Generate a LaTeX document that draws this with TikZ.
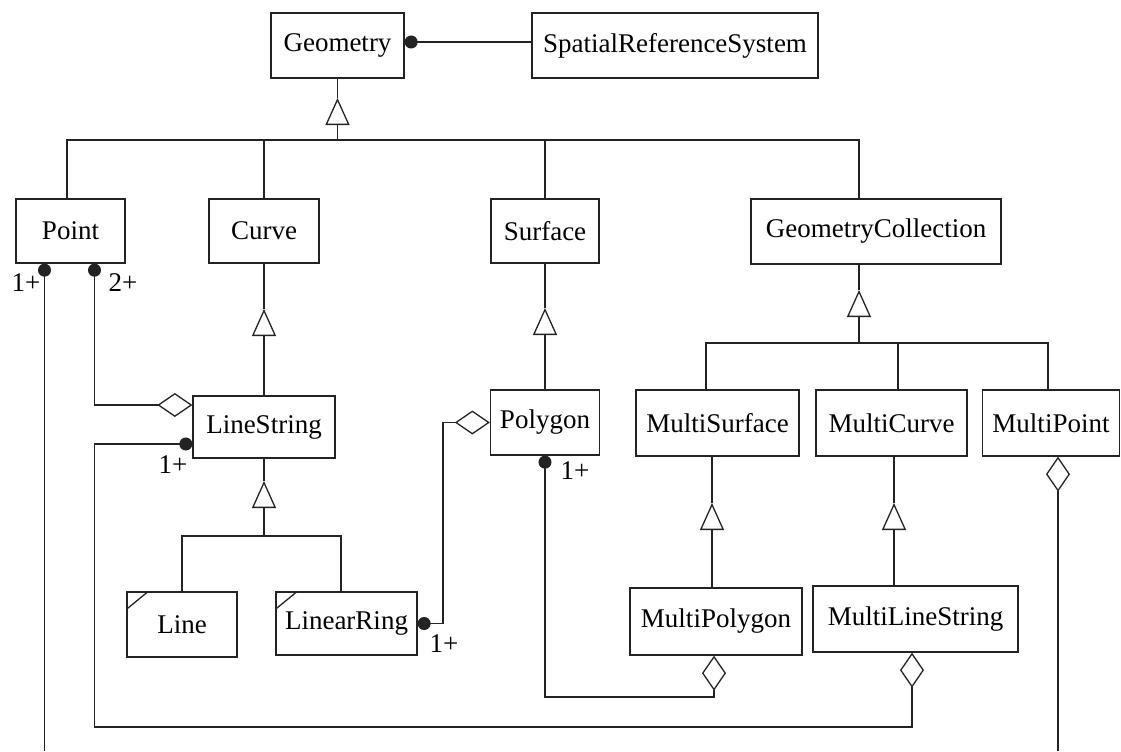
\documentclass[tikz,border=0pt]{standalone}
\usepackage{fontspec}
\setmainfont{Liberation Serif}
\usetikzlibrary{arrows.meta}
\definecolor{UmlInk}{RGB}{35,35,35}
\tikzset{
  cls/.style={draw=UmlInk,line width=0.65pt,inner sep=0pt,font=\fontsize{13.5}{16}\selectfont},
  link/.style={draw=UmlInk,line width=0.65pt},
  gen/.style={link,-{Triangle[open,length=13.5pt,width=12pt]}},
  agg/.style={link,-{Diamond[open,length=17.5pt,width=12pt]}},
  dotagg/.style={link,{Circle[length=6.5pt]}-{Diamond[open,length=17.5pt,width=12pt]}},
  mult/.style={inner sep=0pt,font=\fontsize{13.5}{16}\selectfont},
}

\begin{document}
\begin{tikzpicture}[x=0.5pt,y=-0.5pt]
\useasboundingbox (0,0) rectangle (1121,751);
% classes
\node[cls,minimum width=66.5pt,minimum height=32.5pt] (geom) at (337.5,45.5) {Geometry};
\node[cls,minimum width=143pt,minimum height=32.5pt] (srs) at (675,45.5) {SpatialReferenceSystem};
\node[cls,minimum width=54.5pt,minimum height=32pt] (pnt) at (70.5,231) {Point};
\node[cls,minimum width=55pt,minimum height=32pt] (curve) at (264,231) {Curve};
\node[cls,minimum width=54pt,minimum height=32pt] (surf) at (545,231) {Surface};
\node[cls,minimum width=125pt,minimum height=32.5pt] (gcoll) at (876,231.5) {GeometryCollection};
\node[cls,minimum width=71pt,minimum height=31pt] (lstr) at (264,427) {LineString};
\node[cls,minimum width=54.5pt,minimum height=32.5pt] (poly) at (545,422.5) {Polygon};
\node[cls,minimum width=81.5pt,minimum height=33pt] (msurf) at (717.5,423) {MultiSurface};
\node[cls,minimum width=75.5pt,minimum height=33pt] (mcurve) at (891.5,423) {MultiCurve};
\node[cls,minimum width=68.5pt,minimum height=33pt] (mpoint) at (1051,423) {MultiPoint};
\node[cls,minimum width=55pt,minimum height=32.5pt] (line) at (182,624.5) {Line};
\node[cls,minimum width=70.5pt,minimum height=31.5pt] (lring) at (346.5,623.5) {LinearRing};
\node[cls,minimum width=86pt,minimum height=33.5pt] (mpoly) at (716,621.5) {MultiPolygon};
\node[cls,minimum width=102.5pt,minimum height=33pt] (mls) at (915.5,619) {MultiLineString};
% corner marks
\draw[link] ([yshift=-9pt]line.north west) -- ([xshift=11pt]line.north west);
\draw[link] ([yshift=-9pt]lring.north west) -- ([xshift=11pt]lring.north west);
% Geometry -- SpatialReferenceSystem
\draw[link,-{Circle[length=6.5pt]}] ([yshift=1.75pt]srs.west) -- ([yshift=1.75pt]geom.east);
% generalisations
\coordinate (g-bus) at (337.5,140);
\coordinate (g-tip) at (337.5,98);
\draw[link] ([xshift=-1.75pt]pnt.north) |- (g-bus);
\draw[link] (curve.north) |- (g-bus);
\draw[link] (surf.north) |- (g-bus);
\draw[link] ([xshift=-8.5pt]gcoll.north) |- (g-bus);
\draw[gen] (g-bus) -- (g-tip);
\draw[link] (g-tip) -- (geom.south);
\coordinate (c-tip) at (264,309);
\draw[gen] (lstr.north) -- (c-tip);
\draw[link] (c-tip) -- (curve.south);
\coordinate (s-tip) at (545,308);
\draw[gen] (poly.north) -- (s-tip);
\draw[link] (s-tip) -- (surf.south);
\coordinate (gc-bus) at (859,343);
\coordinate (gc-tip) at (859,290);
\draw[link] ([xshift=-5.75pt]msurf.north) |- (gc-bus);
\draw[link] ([xshift=3.25pt]mcurve.north) |- (gc-bus);
\draw[link] ([xshift=-1.5pt]mpoint.north) |- (gc-bus);
\draw[gen] (gc-bus) -- (gc-tip);
\draw[link] (gc-tip) -- ([xshift=-8.5pt]gcoll.south);
\coordinate (ls-bus) at (264,536);
\coordinate (ls-tip) at (264,481);
\draw[link] (line.north) |- (ls-bus);
\draw[link] ([xshift=-2.75pt]lring.north) |- (ls-bus);
\draw[gen] (ls-bus) -- (ls-tip);
\draw[link] (ls-tip) -- (lstr.south);
\coordinate (ms-tip) at (712,503);
\draw[gen] (mpoly.north -| ms-tip) -- (ms-tip);
\draw[link] (ms-tip) -- (msurf.south -| ms-tip);
\coordinate (mc-tip) at (894,503);
\draw[gen] (mls.north -| mc-tip) -- (mc-tip);
\draw[link] (mc-tip) -- (mcurve.south -| mc-tip);
% aggregations
\draw[dotagg] ([xshift=12pt]pnt.south) |- ([yshift=11pt]lstr.west);
\coordinate (p-out) at (44.5,751);
\draw[link,{Circle[length=6.5pt]}-] ([xshift=-13pt]pnt.south) -- (p-out);
\coordinate (mp-out) at (1058,751);
\draw[agg] (mp-out) -- (mpoint.south -| mp-out);
\coordinate (ls-low) at (94.5,727);
\draw[dotagg] ([yshift=-8.5pt]lstr.west) -| (ls-low) -| ([xshift=-1.75pt]mls.south);
\coordinate (pg-low) at (545,697);
\draw[dotagg] (poly.south) -- (pg-low) -| ([xshift=-1pt]mpoly.south);
\coordinate (lr-up) at (443,520);
\draw[dotagg] (lring.east) -| (lr-up) |- (poly.west);
% multiplicities
\node[mult] (m-p1) at (26,283) {1+};
\node[mult] (m-p2) at (123,283) {2+};
\node[mult] (m-ls) at (173,465) {1+};
\node[mult] (m-pg) at (575,471) {1+};
\node[mult] (m-lr) at (444,644) {1+};
\end{tikzpicture}
\end{document}
